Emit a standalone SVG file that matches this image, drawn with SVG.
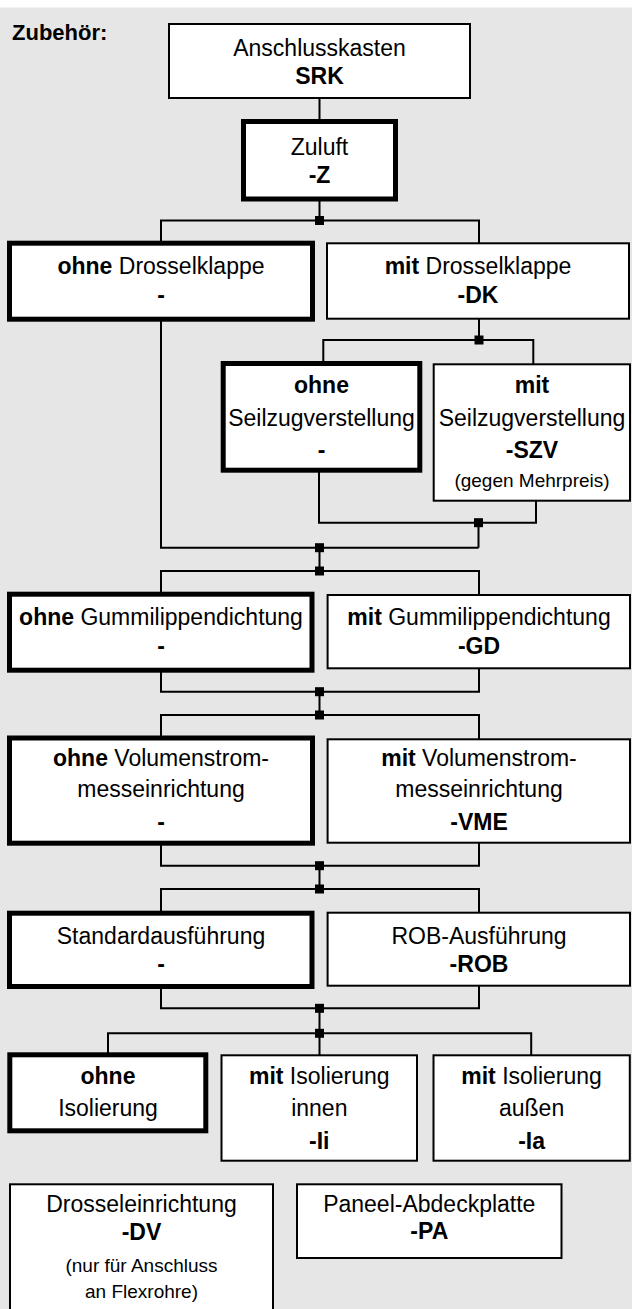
<svg xmlns="http://www.w3.org/2000/svg" width="632" height="1309" viewBox="0 0 632 1309">
<style>
.bg{fill:#e6e6e6}
.box{fill:#fff;stroke:#000;stroke-width:2}
.sel{fill:#fff;stroke:#000;stroke-width:5}
.c{fill:none;stroke:#000;stroke-width:2}
.j{fill:#000}
text{font-family:"Liberation Sans",Arial,sans-serif;font-size:23px;fill:#000;text-anchor:middle}
.b{font-weight:bold}
.s{font-size:19px}
.title{font-size:22px;font-weight:bold;text-anchor:start}
</style>
<rect class="bg" x="0" y="7.5" width="632" height="1302"/>
<text class="title" x="12" y="40">Zubehör:</text>

<g id="connectors">
<path class="c" d="M319.5 98 V121 M319.5 199 V220.5"/>
<path class="c" d="M161 243 V220.5 H479 V243"/>
<path class="c" d="M479 319 V340 M323.3 363.5 V340 H533.3 V364"/>
<path class="c" d="M319 471 V522.7 H536 V501"/>
<path class="c" d="M478.5 522.7 V547.7 M161 320 V547.7 H478.5"/>
<path class="c" d="M319.5 547.7 V571 M161 594 V571 H479 V595"/>
<path class="c" d="M161 671 V691.7 H479 V668 M319.5 691.7 V715 M161 738 V715 H479 V739"/>
<path class="c" d="M161 844 V865.7 H479 V842 M319.5 865.7 V889 M161 913 V889 H479 V912"/>
<path class="c" d="M161 987 V1008.3 H479 V985.5 M319.5 1008.3 V1055 M108 1055 V1033.3 H531.2 V1055"/>
<rect class="j" x="315" y="216" width="9" height="9"/>
<rect class="j" x="474.5" y="335.5" width="9" height="9"/>
<rect class="j" x="474" y="518.2" width="9" height="9"/>
<rect class="j" x="315" y="543.2" width="9" height="9"/>
<rect class="j" x="315" y="566.5" width="9" height="9"/>
<rect class="j" x="315" y="687.2" width="9" height="9"/>
<rect class="j" x="315" y="710.5" width="9" height="9"/>
<rect class="j" x="315" y="861.2" width="9" height="9"/>
<rect class="j" x="315" y="884.5" width="9" height="9"/>
<rect class="j" x="315" y="1003.8" width="9" height="9"/>
<rect class="j" x="315" y="1028.8" width="9" height="9"/>
</g>

<g id="srk">
<rect class="box" x="169" y="24" width="301" height="74"/>
<text x="319.5" y="56">Anschlusskasten</text>
<text class="b" x="319.5" y="84">SRK</text>
</g>
<g id="zuluft">
<rect class="sel" x="243.5" y="121.5" width="152" height="77.5"/>
<text x="319.5" y="155">Zuluft</text>
<text class="b" x="319.5" y="183">-Z</text>
</g>
<g id="ohne-dk">
<rect class="sel" x="9.5" y="243.2" width="303" height="76"/>
<text x="161" y="274"><tspan class="b">ohne</tspan> Drosselklappe</text>
<text class="b" x="161" y="303">-</text>
</g>
<g id="mit-dk">
<rect class="box" x="327" y="243.3" width="302" height="75.4"/>
<text x="478" y="274"><tspan class="b">mit</tspan> Drosselklappe</text>
<text class="b" x="478" y="303">-DK</text>
</g>
<g id="ohne-szv">
<rect class="sel" x="223.2" y="363.5" width="196.6" height="106.7"/>
<text class="b" x="321.5" y="393">ohne</text>
<text x="321.5" y="426">Seilzugverstellung</text>
<text class="b" x="321.5" y="458">-</text>
</g>
<g id="mit-szv">
<rect class="box" x="433.7" y="364.3" width="196.3" height="136.4"/>
<text class="b" x="532" y="393">mit</text>
<text x="532" y="426">Seilzugverstellung</text>
<text class="b" x="532" y="458">-SZV</text>
<text class="s" x="532" y="487">(gegen Mehrpreis)</text>
</g>
<g id="ohne-gd">
<rect class="sel" x="9.5" y="594.2" width="302.5" height="76"/>
<text x="161" y="625"><tspan class="b">ohne</tspan> Gummilippendichtung</text>
<text class="b" x="161" y="654">-</text>
</g>
<g id="mit-gd">
<rect class="box" x="327.6" y="595" width="302.4" height="73.3"/>
<text x="479" y="625"><tspan class="b">mit</tspan> Gummilippendichtung</text>
<text class="b" x="479" y="654">-GD</text>
</g>
<g id="ohne-vme">
<rect class="sel" x="9.5" y="738" width="303" height="105.2"/>
<text x="161" y="765.5"><tspan class="b">ohne</tspan> Volumenstrom-</text>
<text x="161" y="797">messeinrichtung</text>
<text class="b" x="161" y="830">-</text>
</g>
<g id="mit-vme">
<rect class="box" x="327.6" y="739.3" width="302.4" height="103.4"/>
<text x="479" y="765.5"><tspan class="b">mit</tspan> Volumenstrom-</text>
<text x="479" y="797">messeinrichtung</text>
<text class="b" x="479" y="830">-VME</text>
</g>
<g id="standard">
<rect class="sel" x="9.5" y="913.2" width="302.5" height="73.3"/>
<text x="161" y="943.5">Standardausführung</text>
<text class="b" x="161" y="972">-</text>
</g>
<g id="rob">
<rect class="box" x="327.6" y="912.7" width="302.4" height="73"/>
<text x="479" y="943.5">ROB-Ausführung</text>
<text class="b" x="479" y="972">-ROB</text>
</g>
<g id="ohne-iso">
<rect class="sel" x="9.8" y="1054.8" width="196" height="76"/>
<text class="b" x="108" y="1083.5">ohne</text>
<text x="108" y="1115.5">Isolierung</text>
</g>
<g id="iso-innen">
<rect class="box" x="221.5" y="1055.3" width="195.5" height="105.4"/>
<text x="319.3" y="1083.5"><tspan class="b">mit</tspan> Isolierung</text>
<text x="319.3" y="1115.5">innen</text>
<text class="b" x="319.3" y="1149">-Ii</text>
</g>
<g id="iso-aussen">
<rect class="box" x="433.5" y="1055.3" width="196.3" height="105.4"/>
<text x="531.6" y="1083.5"><tspan class="b">mit</tspan> Isolierung</text>
<text x="531.6" y="1115.5">außen</text>
<text class="b" x="531.6" y="1149">-Ia</text>
</g>
<g id="dv">
<rect class="box" x="10" y="1184.3" width="263" height="140"/>
<text x="141.5" y="1211.5">Drosseleinrichtung</text>
<text class="b" x="141.5" y="1240">-DV</text>
<text class="s" x="141.5" y="1272">(nur für Anschluss</text>
<text class="s" x="141.5" y="1298">an Flexrohre)</text>
</g>
<g id="pa">
<rect class="box" x="297" y="1184.3" width="264.5" height="73.7"/>
<text x="429.3" y="1211.5">Paneel-Abdeckplatte</text>
<text class="b" x="429.3" y="1239">-PA</text>
</g>
</svg>
